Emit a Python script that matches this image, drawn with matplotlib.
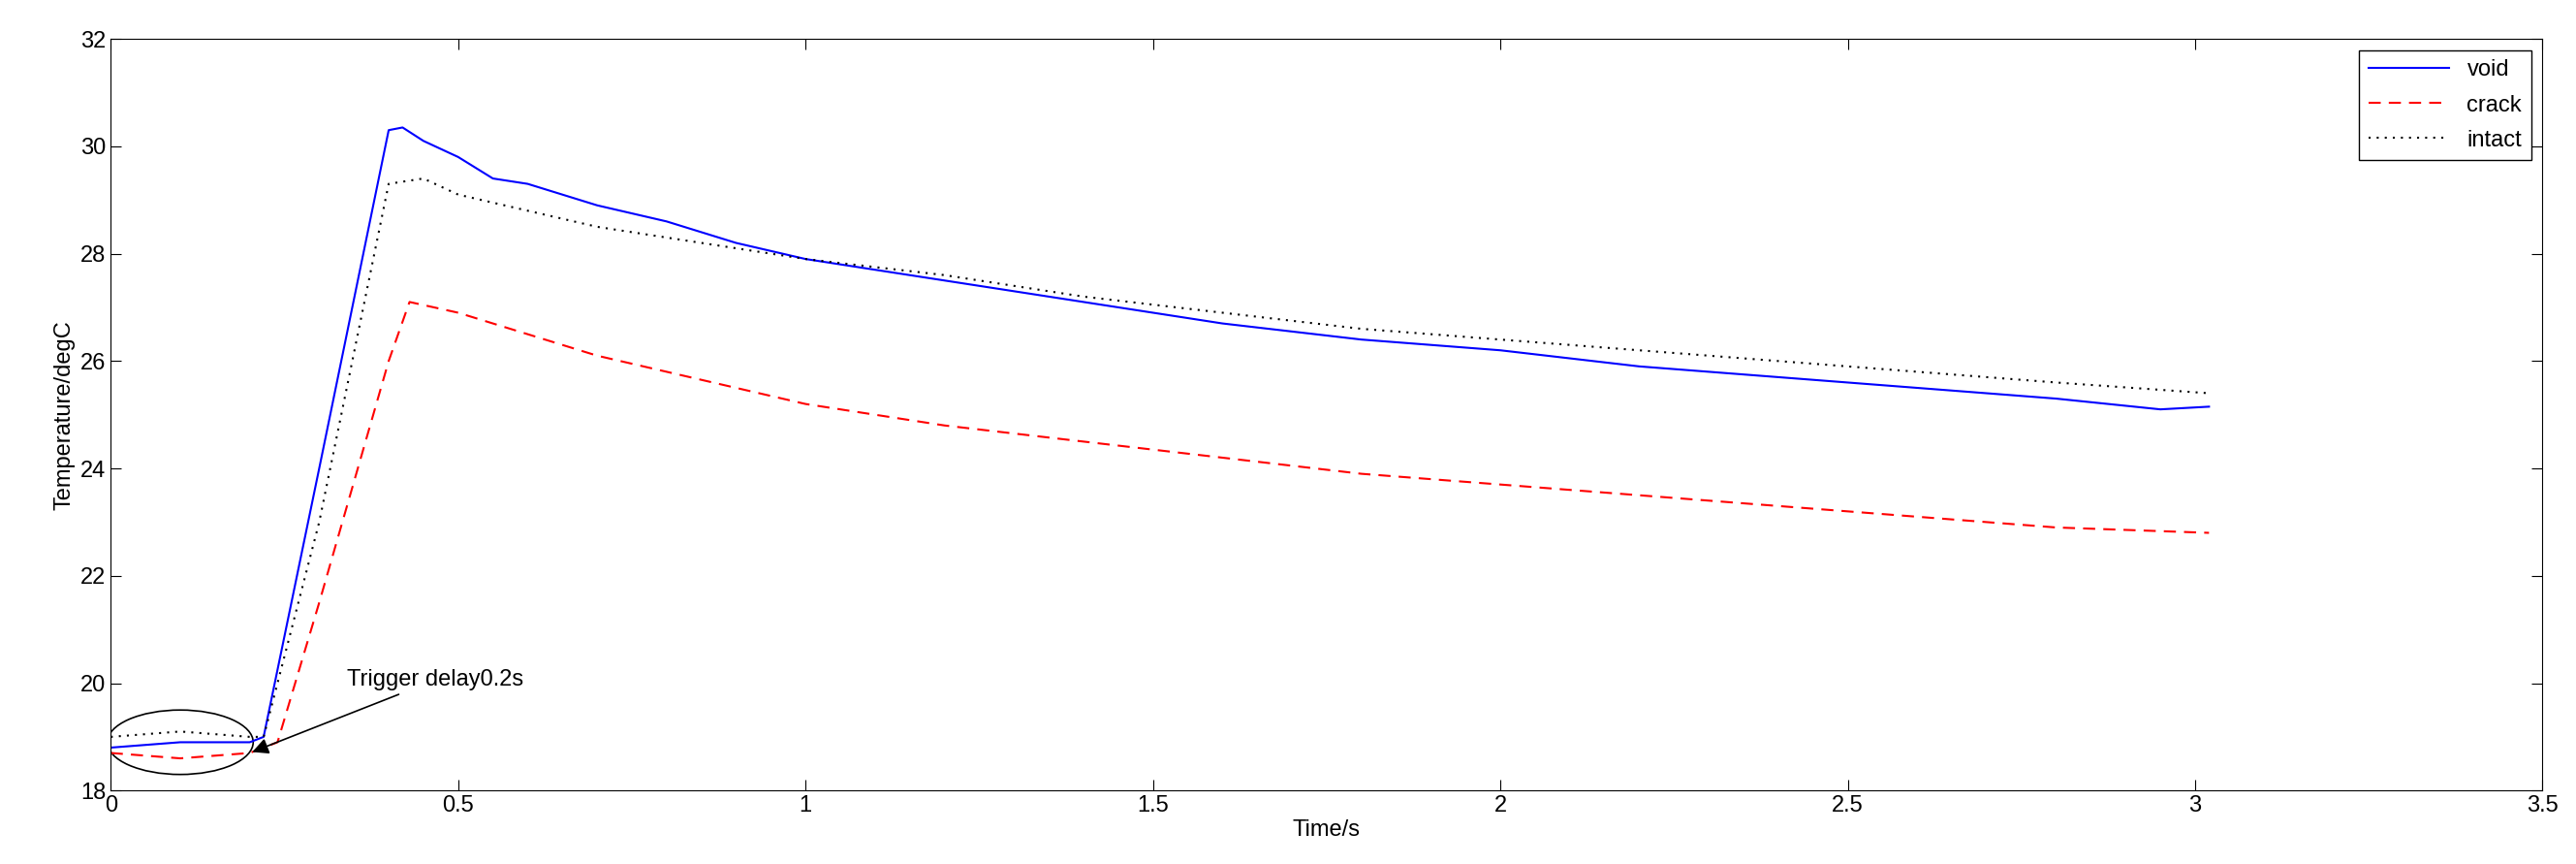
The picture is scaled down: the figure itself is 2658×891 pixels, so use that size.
import matplotlib
matplotlib.use("Agg")
import matplotlib.pyplot as plt
from matplotlib.patches import Ellipse

plt.rcParams["font.family"] = ["Liberation Sans", "DejaVu Sans"]

time_void = [0, 0.1, 0.2, 0.22, 0.3, 0.4, 0.42, 0.45, 0.5, 0.55, 0.6, 0.7, 0.8, 0.9, 1.0,
             1.2, 1.4, 1.6, 1.8, 2.0, 2.2, 2.4, 2.6, 2.8, 2.95, 3.02]
temp_void = [18.8, 18.9, 18.9, 19.0, 24.0, 30.3, 30.35, 30.1, 29.8, 29.4, 29.3, 28.9, 28.6, 28.2, 27.9,
             27.5, 27.1, 26.7, 26.4, 26.2, 25.9, 25.7, 25.5, 25.3, 25.1, 25.15]
time_crack = [0, 0.1, 0.2, 0.24, 0.3, 0.4, 0.43, 0.5, 0.6, 0.7, 0.8, 0.9, 1.0,
              1.2, 1.4, 1.6, 1.8, 2.0, 2.2, 2.4, 2.6, 2.8, 3.02]
temp_crack = [18.7, 18.6, 18.7, 18.9, 21.5, 26.0, 27.1, 26.9, 26.5, 26.1, 25.8, 25.5, 25.2,
              24.8, 24.5, 24.2, 23.9, 23.7, 23.5, 23.3, 23.1, 22.9, 22.8]
time_intact = [0, 0.1, 0.2, 0.22, 0.3, 0.4, 0.45, 0.5, 0.6, 0.7, 0.8, 0.9, 1.0,
               1.2, 1.4, 1.6, 1.8, 2.0, 2.2, 2.4, 2.6, 2.8, 3.02]
temp_intact = [19.0, 19.1, 19.0, 19.0, 23.0, 29.3, 29.4, 29.1, 28.8, 28.5, 28.3, 28.1, 27.9,
               27.6, 27.2, 26.9, 26.6, 26.4, 26.2, 26.0, 25.8, 25.6, 25.4]

fig = plt.figure(figsize=(26.58, 8.91), dpi=100)
ax = fig.add_axes([0.043, 0.085, 0.944, 0.87])
ax.plot(time_void, temp_void, color="#0000ff", lw=1.5, label="void")
ax.plot(time_crack, temp_crack, color="#ff0000", lw=1.5, ls=(0, (6, 4)), label="crack")
ax.plot(time_intact, temp_intact, color="black", lw=1.5, ls=(0, (1, 3)), label="intact")

ax.add_patch(Ellipse((0.1, 18.9), 0.21, 1.2, fill=False, color="black", lw=1.2))
ax.annotate("Trigger delay0.2s", xy=(0.2, 18.7), xytext=(0.34, 19.95), fontsize=17,
            arrowprops=dict(arrowstyle="-|>", color="black", lw=1.2, mutation_scale=25))

ax.set_xlim(0, 3.5)
ax.set_ylim(18, 32)
ax.set_xticks([0, 0.5, 1, 1.5, 2, 2.5, 3, 3.5])
ax.set_xticklabels(["0", "0.5", "1", "1.5", "2", "2.5", "3", "3.5"])
ax.tick_params(labelsize=17, direction="in", top=True, right=True, length=8)
ax.set_xlabel("Time/s", fontsize=17, labelpad=2)
ax.set_ylabel("Temperature/degC", fontsize=17)
ax.legend(loc="upper right", fontsize=17, fancybox=False, edgecolor="black",
          framealpha=1, handlelength=3.5, labelspacing=0.6)

fig.savefig("out.png", dpi=100)
